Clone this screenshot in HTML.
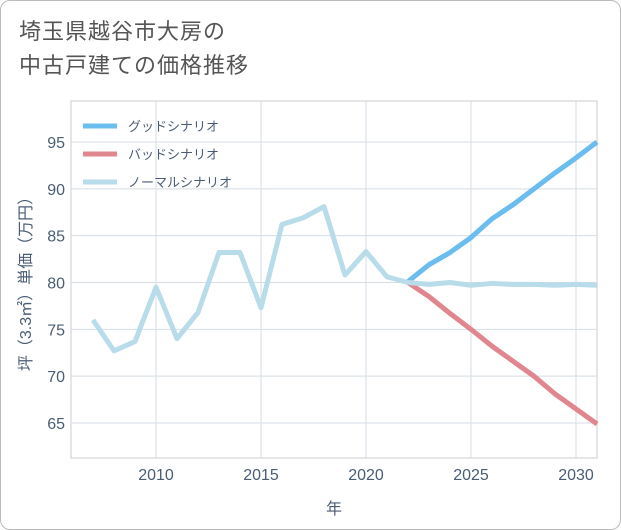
<!DOCTYPE html>
<html><head><meta charset="utf-8"><style>
body{margin:0;background:#fff;}
#wrap{position:relative;width:619px;height:528px;border:1px solid #bbb;border-radius:10px;background:#fff;overflow:hidden;font-family:"Liberation Sans","Noto Sans CJK JP",sans-serif;}
#title{position:absolute;left:18px;top:14px;font-size:22px;line-height:34px;color:#555;letter-spacing:1px;}
svg text{font-family:"Liberation Sans","Noto Sans CJK JP",sans-serif;}
</style></head><body>
<div id="wrap">
<div id="title">埼玉県越谷市大房の<br>中古戸建ての価格推移</div>
<svg id="chart" width="621" height="530" style="position:absolute;left:-1px;top:-1px"></svg>
</div>
<script>
const years=[2007,2008,2009,2010,2011,2012,2013,2014,2015,2016,2017,2018,2019,2020,2021,2022,2023,2024,2025,2026,2027,2028,2029,2030,2031];
const normalValues=[76,72.7,73.7,79.5,74,76.8,83.2,83.2,77.3,86.2,86.9,88.1,80.8,83.3,80.6,80.0,79.8,80.0,79.7,79.9,79.8,79.8,79.7,79.8,79.7];
const futureYears=[2022,2023,2024,2025,2026,2027,2028,2029,2030,2031];
const goodValues=[80.1,81.9,83.2,84.8,86.8,88.3,90.0,91.7,93.3,95.0];
const badValues=[80.0,78.5,76.7,75.0,73.2,71.6,70.0,68.1,66.5,64.9];
const xTicks=[2010,2015,2020,2025,2030];
const yTicks=[65,70,75,80,85,90,95];
const legendLabels=["グッドシナリオ","バッドシナリオ","ノーマルシナリオ"];
const colors=["#6bbcef","#e0868f","#b8dcea"];
const textColor="#4a5d75";
const NS="http://www.w3.org/2000/svg";
const svg=document.getElementById('chart');
const L=71,R=597,T=101,B=458;
const x=v=>156+(v-2010)*21;
const y=v=>142+(95-v)*(281/30);
function mk(tag,attrs,parent){const e=document.createElementNS(NS,tag);for(const k in attrs)e.setAttribute(k,attrs[k]);(parent||svg).appendChild(e);return e;}
const frame=mk('rect',{x:L,y:T,width:R-L,height:B-T,fill:'none',stroke:'#ccc'});


xTicks.forEach(t=>{
 const g=mk('line',{x1:x(t),x2:x(t),y1:T,y2:B,stroke:'#d5dde5'});
 
 
 const tx=mk('text',{x:x(t),y:480,'text-anchor':'middle','font-size':16,fill:textColor});tx.textContent=t;
 
 
});
yTicks.forEach(t=>{
 const g=mk('line',{x1:L,x2:R,y1:y(t),y2:y(t),stroke:'#d5dde5'});
 
 
 const tx=mk('text',{x:65,y:y(t)+6,'text-anchor':'end','font-size':16,fill:textColor});tx.textContent=t;
 
 
});
const xt=mk('text',{x:334,y:514,'text-anchor':'middle','font-size':16,fill:textColor});xt.textContent='年';


const yt=mk('text',{x:0,y:0,'text-anchor':'middle','font-size':16,fill:textColor,transform:'translate(31,280) rotate(-90)'});yt.textContent='坪（3.3㎡）単価（万円）';


function line(xs,vs,c,name){
 const p=mk('polyline',{points:xs.map((yr,i)=>x(yr)+','+y(vs[i])).join(' '),fill:'none',stroke:c,'stroke-width':5,'stroke-linejoin':'round'});
 
 
}
line(futureYears,badValues,colors[1],'bad-scenario-line');
line(futureYears,goodValues,colors[0],'good-scenario-line');
line(years,normalValues,colors[2],'normal-scenario-line');
legendLabels.forEach((lab,i)=>{
 const ly=126+i*28;
 const s=mk('line',{x1:83,x2:117,y1:ly,y2:ly,stroke:colors[i],'stroke-width':5});
 
 
 const t=mk('text',{x:128,y:ly+5,'font-size':13,fill:textColor});t.textContent=lab;
 
 
});
</script>
</body></html>
